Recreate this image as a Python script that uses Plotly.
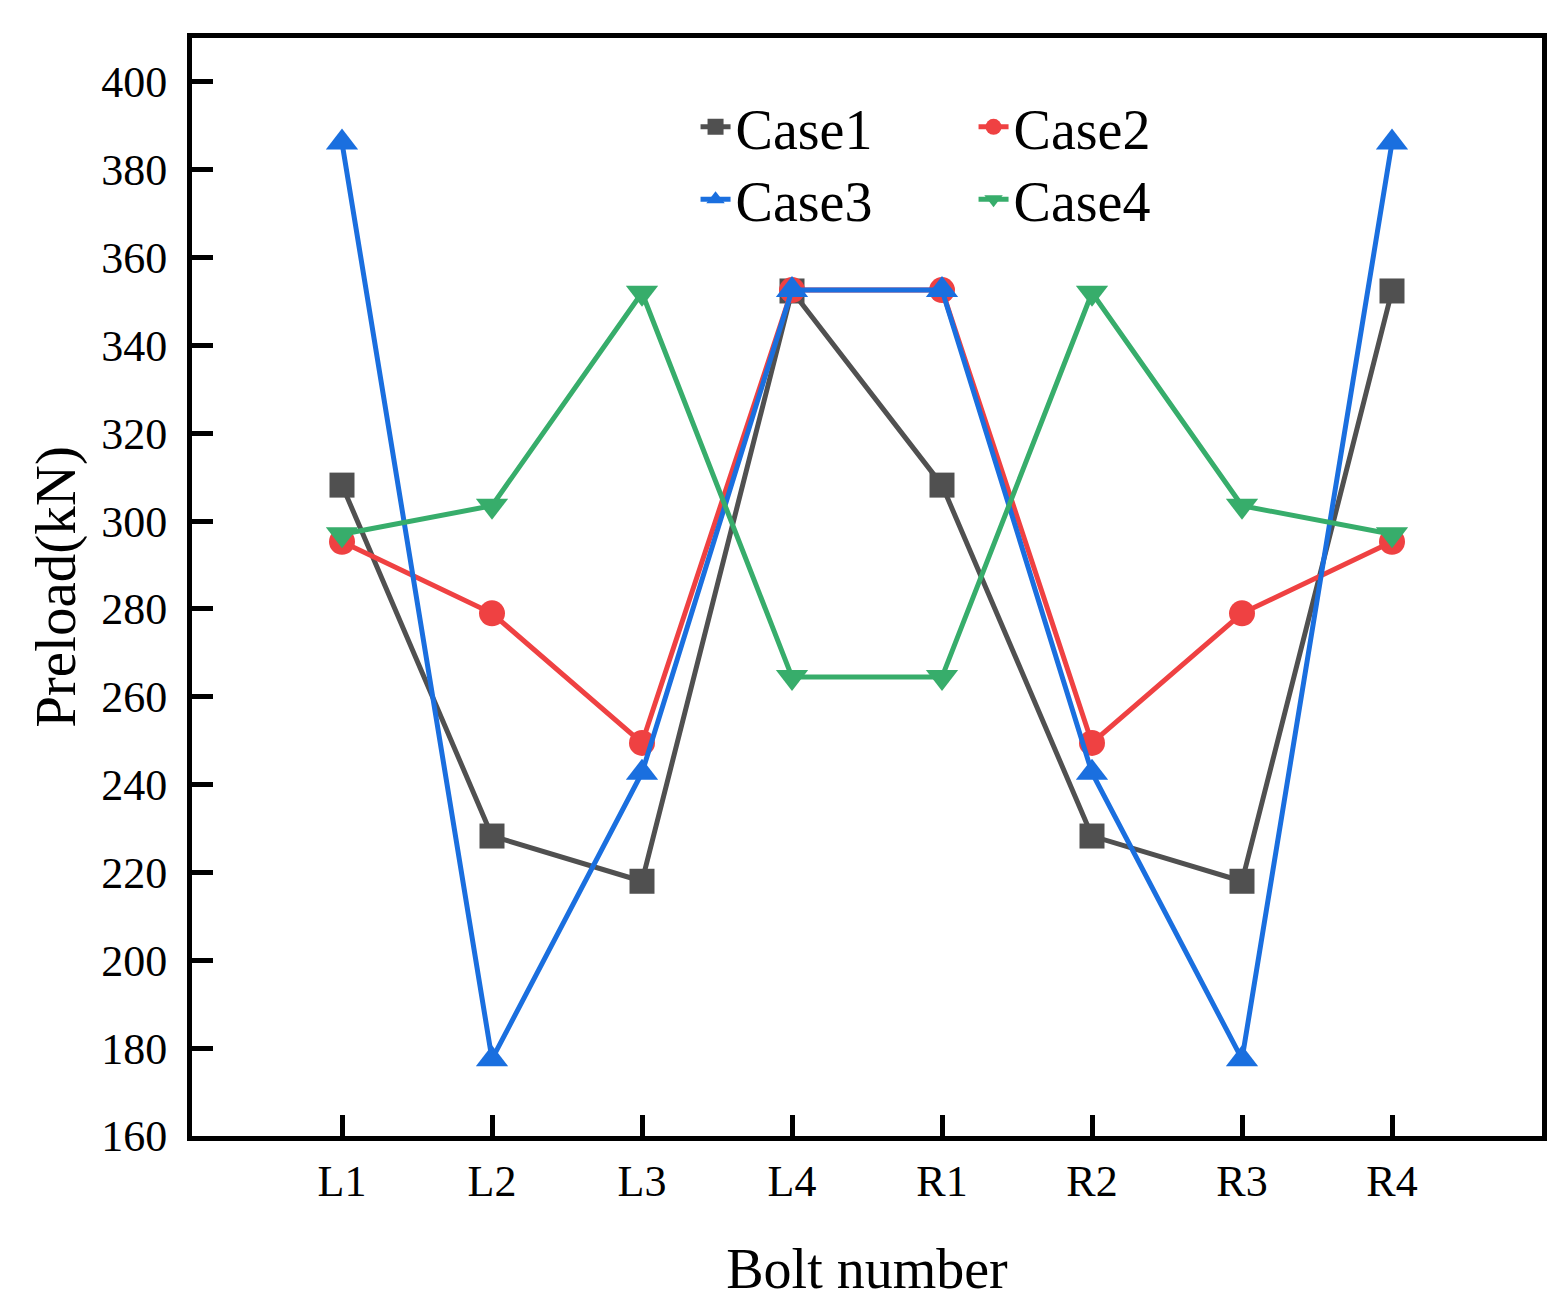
import plotly.graph_objects as go

bolts = ["L1", "L2", "L3", "L4", "R1", "R2", "R3", "R4"]
case1 = [308.2, 228.3, 218.0, 352.4, 308.2, 228.3, 218.0, 352.4]
case2 = [295.3, 279.0, 249.5, 352.6, 352.6, 249.5, 279.0, 295.3]
case3 = [386.2, 177.5, 242.7, 352.6, 352.6, 242.7, 177.5, 386.2]
case4 = [297.0, 303.5, 352.0, 264.5, 264.5, 352.0, 303.5, 297.0]

series = [
    ("Case1", case1, "#505050", "square", 25, "legend"),
    ("Case2", case2, "#EF4142", "circle", 26, "legend"),
    ("Case3", case3, "#1A6FDF", "triangle-up", 28, "legend2"),
    ("Case4", case4, "#37AD6B", "triangle-down", 28, "legend2"),
]

FONT = "Liberation Serif, Times New Roman, serif"

fig = go.Figure()
for name, vals, color, sym, msize, leg in series:
    fig.add_trace(go.Scatter(
        x=list(range(len(bolts))), y=vals, name=name, mode="lines+markers",
        line=dict(color=color, width=5),
        marker=dict(symbol=sym, size=msize, color=color, line=dict(width=0)),
        legend=leg,
    ))

leg_common = dict(
    orientation="h", xanchor="left", yanchor="middle",
    entrywidth=233, entrywidthmode="pixels",
    font=dict(size=56, family=FONT, color="black"), bgcolor="rgba(0,0,0,0)",
    itemsizing="trace",
)

fig.update_layout(
    width=1556, height=1302,
    margin=dict(l=184, r=22, t=30, b=174),
    paper_bgcolor="white", plot_bgcolor="white",
    font=dict(family=FONT, color="black", size=44),
    showlegend=True,
    legend=dict(x=0.373, y=0.919, **leg_common),
    legend2=dict(x=0.373, y=0.853, **leg_common),
    xaxis=dict(
        range=[-1, 8], tickmode="array", tickvals=list(range(len(bolts))), ticktext=bolts,
        showgrid=False, zeroline=False, showline=True, linecolor="black", linewidth=5,
        mirror=True, ticks="inside", ticklen=21, tickwidth=5, tickcolor="black",
        ticklabelstandoff=2,
        tickfont=dict(size=44, family=FONT),
        title=dict(text="Bolt number", font=dict(size=56, family=FONT), standoff=46),
    ),
    yaxis=dict(
        range=[160, 410], tickvals=list(range(160, 401, 20)),
        showgrid=False, zeroline=False, showline=True, linecolor="black", linewidth=5,
        mirror=True, ticks="inside", ticklen=21, tickwidth=5, tickcolor="black",
        ticklabelstandoff=11,
        tickfont=dict(size=44, family=FONT),
        title=dict(text="Preload(kN)", font=dict(size=57, family=FONT), standoff=9),
    ),
)

fig.write_html("out.html")
